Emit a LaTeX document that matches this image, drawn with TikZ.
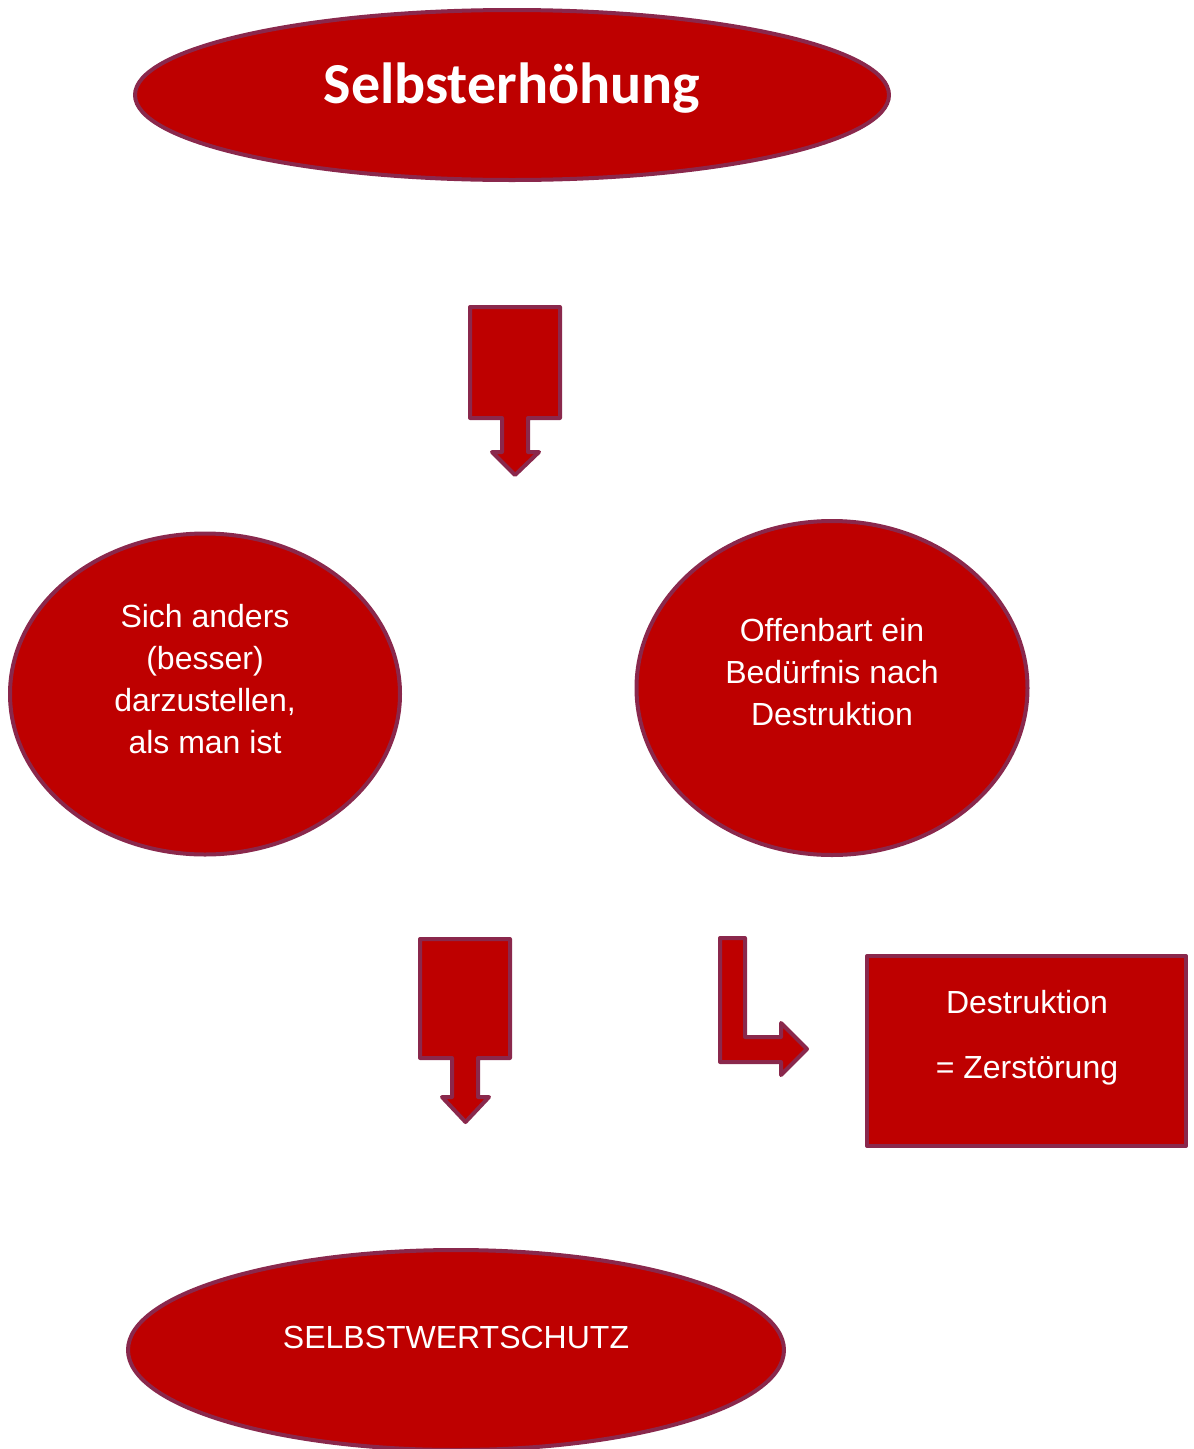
\documentclass[tikz,border=0pt]{standalone}
\usepackage{fontspec}
\setmainfont{Liberation Sans}
\newfontfamily\titlefont{Carlito}
\usetikzlibrary{shapes.geometric}
\definecolor{fillred}{RGB}{190,0,0}
\definecolor{rimred}{RGB}{138,40,76}
\tikzset{
  shapeline/.style={draw=rimred, line width=4pt, fill=fillred, line join=round},
  oval/.style={shapeline, ellipse, inner sep=0pt},
  bodytext/.style={text=white, font=\fontsize{32}{42}\selectfont, align=center},
}
\begin{document}
\begin{tikzpicture}[x=1pt,y=-1pt]
\useasboundingbox (0,0) rectangle (1194,1449);
% ovals
\node[oval, minimum width=754pt, minimum height=170pt] (top) at (512,95) {};
\node[text=white, font=\titlefont\bfseries\fontsize{58}{60}\selectfont] (toptext) at (512,88) {Selbsterhöhung};
\node[oval, minimum width=390pt, minimum height=321pt] (left) at (205,694) {};
\node[bodytext] (lefttext) at (205,679) {Sich anders\\(besser)\\darzustellen,\\als man ist};
\node[oval, minimum width=391pt, minimum height=334pt] (right) at (832,688) {};
\node[bodytext] (righttext) at (832,672) {Offenbart ein\\Bedürfnis nach\\Destruktion};
\node[oval, minimum width=656pt, minimum height=200pt] (bottom) at (456,1350) {};
\node[bodytext] (bottomtext) at (456,1337) {SELBSTWERTSCHUTZ};
% rectangle
\node[shapeline, rectangle, minimum width=319pt, minimum height=190pt] (box) at (1026.5,1051) {};
\node[bodytext] (boxtext1) at (1027,1002) {Destruktion};
\node[bodytext] (boxtext2) at (1027,1071) {= Zerstörung};
% block arrow 1
\draw[shapeline] (470,307) -- (560,307) -- (560,418) -- (528,418) -- (528,452) -- (539,452)
  -- (515,475) -- (492,452) -- (502,452) -- (502,418) -- (470,418) -- cycle;
% block arrow 2
\draw[shapeline] (420,939) -- (510,939) -- (510,1058) -- (478,1058) -- (478,1097) -- (489,1097)
  -- (465.5,1122) -- (442,1097) -- (452,1097) -- (452,1058) -- (420,1058) -- cycle;
% bent arrow
\draw[shapeline] (720,938) -- (745,938) -- (745,1037) -- (781,1037) -- (781,1023) -- (807,1049)
  -- (781,1075) -- (781,1062) -- (720,1062) -- cycle;
\end{tikzpicture}
\end{document}
